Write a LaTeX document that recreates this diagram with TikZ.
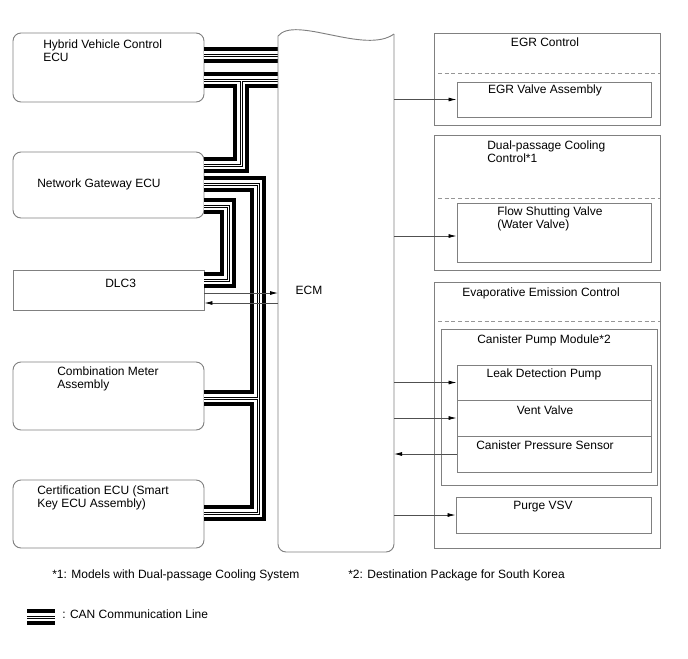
\documentclass[tikz,border=0pt]{standalone}
\usepackage{fontspec}
\setmainfont{Liberation Sans}
\usetikzlibrary{fit,arrows.meta}
\definecolor{boxgray}{RGB}{128,128,128}
\definecolor{dashgray}{RGB}{150,150,150}
\definecolor{sigline}{RGB}{80,80,80}

\tikzset{
  ecubox/.style={draw=boxgray, line width=0.7pt, rounded corners=6pt, inner sep=0pt},
  plainbox/.style={draw=boxgray, line width=0.7pt, inner sep=0pt},
  lbl/.style={font=\fontsize{9}{9.75}\selectfont, inner sep=0pt, align=left},
  sig/.style={draw=sigline, line width=0.6pt, -{Latex[length=6pt,width=3pt,black]}},
  sepline/.style={draw=dashgray, line width=0.7pt, dash pattern=on 3pt off 2pt}
}

% CAN bus routes (drawn in layers)
\newcommand{\canroutes}{%
  (hvecu.east |- 0,55) -- (ecmL |- 0,55)
  (hvecu.east |- 0,80) -- (ecmL |- 0,80)
  (241,80) |- (gateway.east |- 0,165)
  (gateway.east |- 0,184) -| (258,513) -- (certecu.east |- 0,513)
  (258,398) -- (meter.east |- 0,398)
  (gateway.east |- 0,206) -| (228,280) -- (dlc.east |- 0,280)
}

\begin{document}
\begin{tikzpicture}[x=0.75pt, y=-0.75pt]
    \useasboundingbox (0,0) rectangle (688,658);

    % ECUs on the left
    \node[ecubox, fit={(13,33) (204,102)}] (hvecu) {};
    \node[ecubox, fit={(13,152) (204,218)}] (gateway) {};
    \node[plainbox, fit={(13,270) (204,310)}] (dlc) {};
    \node[ecubox, fit={(13,362) (204,430)}] (meter) {};
    \node[ecubox, fit={(13,480) (204,548)}] (certecu) {};
    \node[lbl, anchor=west] (hvecutxt) at (43,51) {Hybrid Vehicle Control\\ECU};
    \node[lbl, anchor=west] (gatewaytxt) at (37,184) {Network Gateway ECU};
    \node[lbl, anchor=west] (dlctxt) at (105,283) {DLC3};
    \node[lbl, anchor=west] (metertxt) at (57,379) {Combination Meter\\Assembly};
    \node[lbl, anchor=west] (certecutxt) at (37,498) {Certification ECU (Smart\\Key ECU Assembly)};

    % ECM
    \coordinate (ecmL) at (278,300);
    \coordinate (ecmR) at (394,300);
    \foreach \lw/\col in {12pt/black, 6.6pt/white, 2.25pt/black, 0.75pt/white}
        \draw[line width=\lw, \col] \canroutes;
    \draw[boxgray, line width=0.7pt] (278,36) .. controls (295,15) and (365,55) .. (394,34);
    \draw[boxgray, line width=0.7pt, rounded corners=6pt] (394,34) -- (394,552) -- (278,552) -- (278,36);
    \node[lbl] (ecmtxt) at (309,290) {ECM};

    % EGR control
    \node[plainbox, fit={(434,33) (660,125)}] (egrctl) {};
    \draw[sepline] (438,73) -- (egrctl.east |- 0,73);
    \node[plainbox, fit={(457,82) (651,117)}] (egrv) {};
    \node[lbl] (egrctltxt) at (545,42) {EGR Control};
    \node[lbl] (egrvtxt) at (545,90) {EGR Valve Assembly};

    % Dual-passage cooling control
    \node[plainbox, fit={(434,135) (660,270)}] (coolctl) {};
    \draw[sepline] (438,198) -- (coolctl.east |- 0,198);
    \node[plainbox, fit={(457,203) (651,262)}] (fsv) {};
    \node[lbl, anchor=west] (coolctltxt) at (487,152) {Dual-passage Cooling\\Control*1};
    \node[lbl, anchor=west] (fsvtxt) at (497,219) {Flow Shutting Valve\\(Water Valve)};

    % Evaporative emission control
    \node[plainbox, fit={(434,282) (660,548)}] (evapctl) {};
    \draw[sepline] (438,321) -- (evapctl.east |- 0,321);
    \node[plainbox, fit={(441,329) (657,485)}] (cpm) {};
    \node[plainbox, fit={(457,365) (651,400)}] (ldp) {};
    \node[plainbox, fit={(457,400) (651,436)}] (vent) {};
    \node[plainbox, fit={(457,436) (651,472)}] (cps) {};
    \node[plainbox, fit={(456,497) (651,533)}] (purge) {};
    \node[lbl] (evapctltxt) at (541,293) {Evaporative Emission Control};
    \node[lbl] (cpmtxt) at (544,340) {Canister Pump Module*2};
    \node[lbl] (ldptxt) at (544,374) {Leak Detection Pump};
    \node[lbl] (venttxt) at (545,410) {Vent Valve};
    \node[lbl] (cpstxt) at (545,445) {Canister Pressure Sensor};
    \node[lbl] (purgetxt) at (543,507) {Purge VSV};

    % Signal lines
    \draw[sig] (ecmR |- egrv.west) -- (egrv.west);
    \draw[sig] (ecmR |- 0,236) -- (fsv.west |- 0,236);
    \draw[sig] (ecmR |- ldp.west) -- (ldp.west);
    \draw[sig] (ecmR |- vent.west) -- (vent.west);
    \draw[sig] (cps.west) -- (ecmR |- cps.west);
    \draw[sig] (ecmR |- purge.west) -- (purge.west);
    \draw[sig] (dlc.east |- 0,293) -- (ecmL |- 0,293);
    \draw[sig] (ecmL |- 0,303) -- (dlc.east |- 0,303);

    % Notes and legend
    \node[lbl, anchor=west] (note1) at (52,575) {*1: Models with Dual-passage Cooling System};
    \node[lbl, anchor=west] (note2) at (348,575) {*2: Destination Package for South Korea};
    \coordinate (legendL) at (27,617);
    \coordinate (legendR) at (55,617);
    \foreach \lw/\col in {12pt/black, 6.6pt/white, 2.25pt/black, 0.75pt/white}
        \draw[line width=\lw, \col] (legendL) -- (legendR);
    \node[lbl, anchor=west] (legendtxt) at (62,614) {: CAN Communication Line};
\end{tikzpicture}
\end{document}
